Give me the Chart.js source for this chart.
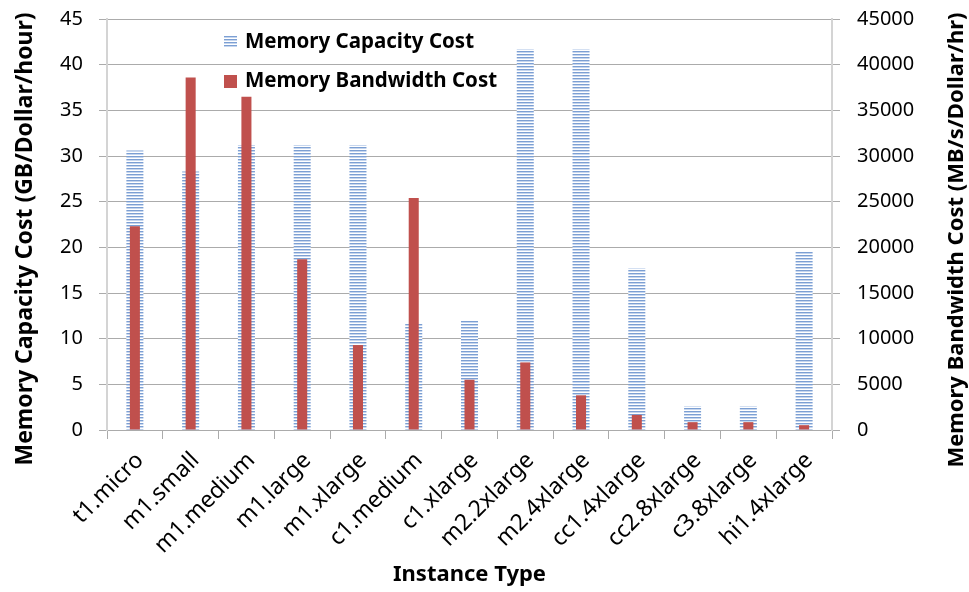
<!DOCTYPE html>
<html>
<head>
<meta charset="utf-8">
<script src="https://cdn.jsdelivr.net/npm/chart.js@4/dist/chart.umd.min.js"></script>
<style>
  body { margin: 0; background: #fff; }
  canvas { display: block; }
</style>
</head>
<body>
<canvas id="myChart" width="969" height="592"></canvas>
<script>
const instancias = ['t1.micro', 'm1.small', 'm1.medium', 'm1.large', 'm1.xlarge', 'c1.medium', 'c1.xlarge',
    'm2.2xlarge', 'm2.4xlarge', 'cc1.4xlarge', 'cc2.8xlarge', 'c3.8xlarge', 'hi1.4xlarge'];
// GB/Dollar/hour (eje izquierdo)
const costeCapacidad = [30.6, 28.3, 31.2, 31.2, 31.2, 11.7, 12.0, 41.7, 41.7, 17.7, 2.6, 2.6, 19.5];
// MB/s/Dollar/hr (eje derecho)
const costeAncho = [22300, 38600, 36500, 18700, 9300, 25400, 5500, 7400, 3800, 1650, 860, 860, 530];
const ticksIzq = [0, 5, 10, 15, 20, 25, 30, 35, 40, 45];
const ticksDer = [0, 5000, 10000, 15000, 20000, 25000, 30000, 35000, 40000, 45000];

const fuente = "'Noto Sans', 'Open Sans', sans-serif";

const rayas = () => {
    const c = document.createElement('canvas');
    c.width = 4; c.height = 3;
    const g = c.getContext('2d');
    g.fillStyle = '#ffffff';
    g.fillRect(0, 0, 4, 3);
    g.fillStyle = '#7c9fd3';
    g.fillRect(0, 0, 4, 1);
    g.fillStyle = '#c6d6ee';
    g.fillRect(0, 1, 4, 1);
    return document.getElementById('myChart').getContext('2d').createPattern(c, 'repeat');
}

const patronAzul = rayas();
const rojo = '#c0504d';

// leyenda y titulos verticales dibujados a mano
const extras = {
    id: 'extras',
    afterDraw(chart) {
        const ctx = chart.ctx;
        ctx.save();
        ctx.font = "bold 20.5px " + fuente;
        ctx.textBaseline = 'middle';
        ctx.textAlign = 'left';
        ctx.fillStyle = patronAzul;
        ctx.fillRect(224, 36, 13, 12);
        ctx.fillStyle = rojo;
        ctx.fillRect(224, 75, 13, 13);
        ctx.fillStyle = '#000';
        ctx.fillText(chart.data.datasets[0].label, 245, 42);
        ctx.fillText(chart.data.datasets[1].label, 245, 81);

        ctx.textAlign = 'center';
        ctx.save();
        ctx.font = "bold 23px " + fuente;
        ctx.translate(25, 239);
        ctx.rotate(-Math.PI / 2);
        ctx.fillText('Memory Capacity Cost (GB/Dollar/hour)', 0, 0);
        ctx.restore();

        ctx.font = "bold 22px " + fuente;
        ctx.translate(957, 240);
        ctx.rotate(-Math.PI / 2);
        ctx.fillText('Memory Bandwidth Cost (MB/s/Dollar/hr)', 0, 0);
        ctx.restore();
    }
}

const sinPadding = (s) => { s.paddingTop = 0; s.paddingBottom = 0; };

const pintarGrafica = () => {
    const ctx = document.getElementById('myChart');
    const myChart = new Chart(ctx, {
        type: 'bar',
        data: {
            labels: instancias,
            datasets: [{
                label: 'Memory Capacity Cost',
                data: costeCapacidad,
                yAxisID: 'y',
                backgroundColor: patronAzul,
                barPercentage: 0.305,
                categoryPercentage: 1,
                grouped: false,
                order: 2
            }, {
                label: 'Memory Bandwidth Cost',
                data: costeAncho,
                yAxisID: 'y2',
                backgroundColor: rojo,
                barPercentage: 0.18,
                categoryPercentage: 1,
                grouped: false,
                order: 1
            }]
        },
        options: {
            responsive: false,
            animation: false,
            layout: { padding: { top: 19, left: 0, right: 0, bottom: 0 } },
            plugins: {
                legend: { display: false },
                tooltip: { enabled: false }
            },
            scales: {
                x: {
                    offset: true,
                    afterFit: (s) => { s.height = 162; },
                    grid: { display: true, offset: true, drawOnChartArea: false, tickLength: 9, color: '#ababab' },
                    border: { color: '#ababab' },
                    ticks: {
                        color: '#000', font: { family: fuente, size: 23 },
                        maxRotation: 45, minRotation: 45, padding: 8, autoSkip: false, labelOffset: 5
                    },
                    title: {
                        display: true, text: 'Instance Type', color: '#000',
                        font: { family: fuente, size: 22, weight: 'bold' }, padding: { top: 0, bottom: 4 }
                    }
                },
                y: {
                    position: 'left',
                    min: ticksIzq[0],
                    max: ticksIzq[ticksIzq.length - 1],
                    afterFit: (s) => { s.width = 107; sinPadding(s); },
                    afterBuildTicks: (s) => { s.ticks = ticksIzq.map(v => ({ value: v })); },
                    grid: { color: '#ababab', tickLength: 8 },
                    border: { color: '#d4d4d4', width: 2 },
                    ticks: { color: '#000', font: { family: fuente, size: 20 }, padding: 16 }
                },
                y2: {
                    position: 'right',
                    min: ticksDer[0],
                    max: ticksDer[ticksDer.length - 1],
                    afterFit: (s) => { s.width = 137; sinPadding(s); },
                    afterBuildTicks: (s) => { s.ticks = ticksDer.map(v => ({ value: v })); },
                    grid: { color: '#ababab', tickLength: 8, drawOnChartArea: false },
                    border: { color: '#d4d4d4', width: 2 },
                    ticks: {
                        color: '#000', font: { family: fuente, size: 20 }, padding: 17,
                        callback: (v) => String(v)
                    }
                }
            }
        },
        plugins: [extras]
    });
}

pintarGrafica();
</script>
</body>
</html>
